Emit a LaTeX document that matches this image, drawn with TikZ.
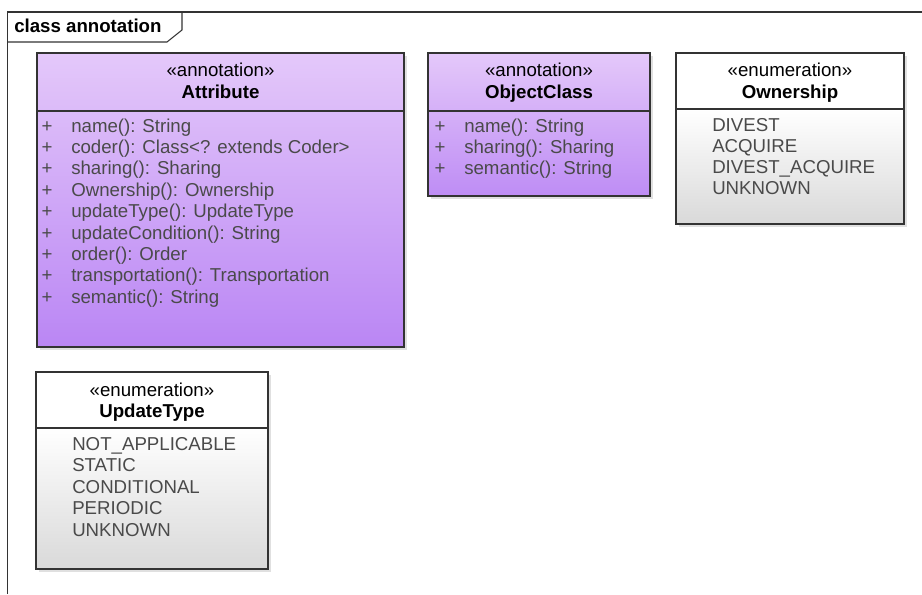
\documentclass[tikz,border=0pt]{standalone}
\usepackage{fontspec}
\setmainfont{Liberation Sans}
\usetikzlibrary{positioning}
\definecolor{lilactop}{HTML}{E4C8FA}
\definecolor{lilacbot}{HTML}{BA86F4}
\definecolor{enumbot}{HTML}{D9D9D9}
\definecolor{itemgray}{HTML}{4A4A4A}
\begin{document}
\begin{tikzpicture}[x=0.75pt,y=-0.75pt,
  every node/.style={font=\fontsize{14}{16}\selectfont,inner sep=0pt},
  stereo/.style={anchor=base},
  cname/.style={anchor=base,font=\fontsize{14}{16}\selectfont\bfseries},
  item/.style={anchor=base west,text=itemgray},
  vis/.style={anchor=base,text=itemgray},
  boxline/.style={draw=black!80,line width=0.9pt},
  shadow/.style={fill=black!12}]
\useasboundingbox (0,0) rectangle (922,594);
% frame with name tab
\draw[black!80,line width=0.8pt] (7.5,594) -- (7.5,12) -- (922,12);
\draw[black!80,line width=0.8pt] (7.5,42) -- (167,42) -- (182,30) -- (182,12);
\node[anchor=base west,font=\fontsize{14}{16}\selectfont\bfseries] (title) at (14,32) {class annotation};
% Attribute
\fill[shadow] (39.5,55.5) rectangle (406.5,349.5);
\shade[top color=lilactop,bottom color=lilacbot] (37,53) rectangle (404,347);
\draw[boxline] (37,53) rectangle (404,347) (37,111) -- (404,111);
\node[stereo] (attr-st) at (220.5,76) {«annotation»};
\node[cname] (attr-nm) at (220.5,98) {Attribute};
\foreach \m [count=\i] in {name(): String,coder(): Class<? extends Coder>,sharing(): Sharing,Ownership(): Ownership,updateType(): UpdateType,updateCondition(): String,order(): Order,transportation(): Transportation,semantic(): String}{
  \node[vis] (attr-v\i) at (47,{132+21.4*(\i-1)}) {+};
  \node[item] (attr-m\i) at (71,{132+21.4*(\i-1)}) {\m};
}
% ObjectClass
\fill[shadow] (430.5,55.5) rectangle (652.5,198.5);
\shade[top color=lilactop,bottom color=lilacbot!90!lilactop] (428,53) rectangle (650,196);
\draw[boxline] (428,53) rectangle (650,196) (428,111) -- (650,111);
\node[stereo] (obj-st) at (539,76) {«annotation»};
\node[cname] (obj-nm) at (539,98) {ObjectClass};
\foreach \m [count=\i] in {name(): String,sharing(): Sharing,semantic(): String}{
  \node[vis] (obj-v\i) at (440,{132+21.4*(\i-1)}) {+};
  \node[item] (obj-m\i) at (464,{132+21.4*(\i-1)}) {\m};
}
% Ownership
\fill[shadow] (678.5,55.5) rectangle (906.5,226.5);
\fill[white] (676,53) rectangle (904,109);
\shade[top color=white,bottom color=enumbot] (676,109) rectangle (904,224);
\draw[boxline] (676,53) rectangle (904,224) (676,109) -- (904,109);
\node[stereo] (own-st) at (790,76) {«enumeration»};
\node[cname] (own-nm) at (790,98) {Ownership};
\foreach \m [count=\i] in {DIVEST,ACQUIRE,DIVEST\_ACQUIRE,UNKNOWN}{
  \node[item] (own-l\i) at (712,{131+21.2*(\i-1)}) {\m};
}
% UpdateType
\fill[shadow] (38.5,374.5) rectangle (270.5,571.5);
\fill[white] (36,372) rectangle (268,428);
\shade[top color=white,bottom color=enumbot] (36,428) rectangle (268,569);
\draw[boxline] (36,372) rectangle (268,569) (36,428) -- (268,428);
\node[stereo] (upd-st) at (152,396) {«enumeration»};
\node[cname] (upd-nm) at (152,417) {UpdateType};
\foreach \m [count=\i] in {NOT\_APPLICABLE,STATIC,CONDITIONAL,PERIODIC,UNKNOWN}{
  \node[item] (upd-l\i) at (72,{450+21.5*(\i-1)}) {\m};
}
\end{tikzpicture}
\end{document}
